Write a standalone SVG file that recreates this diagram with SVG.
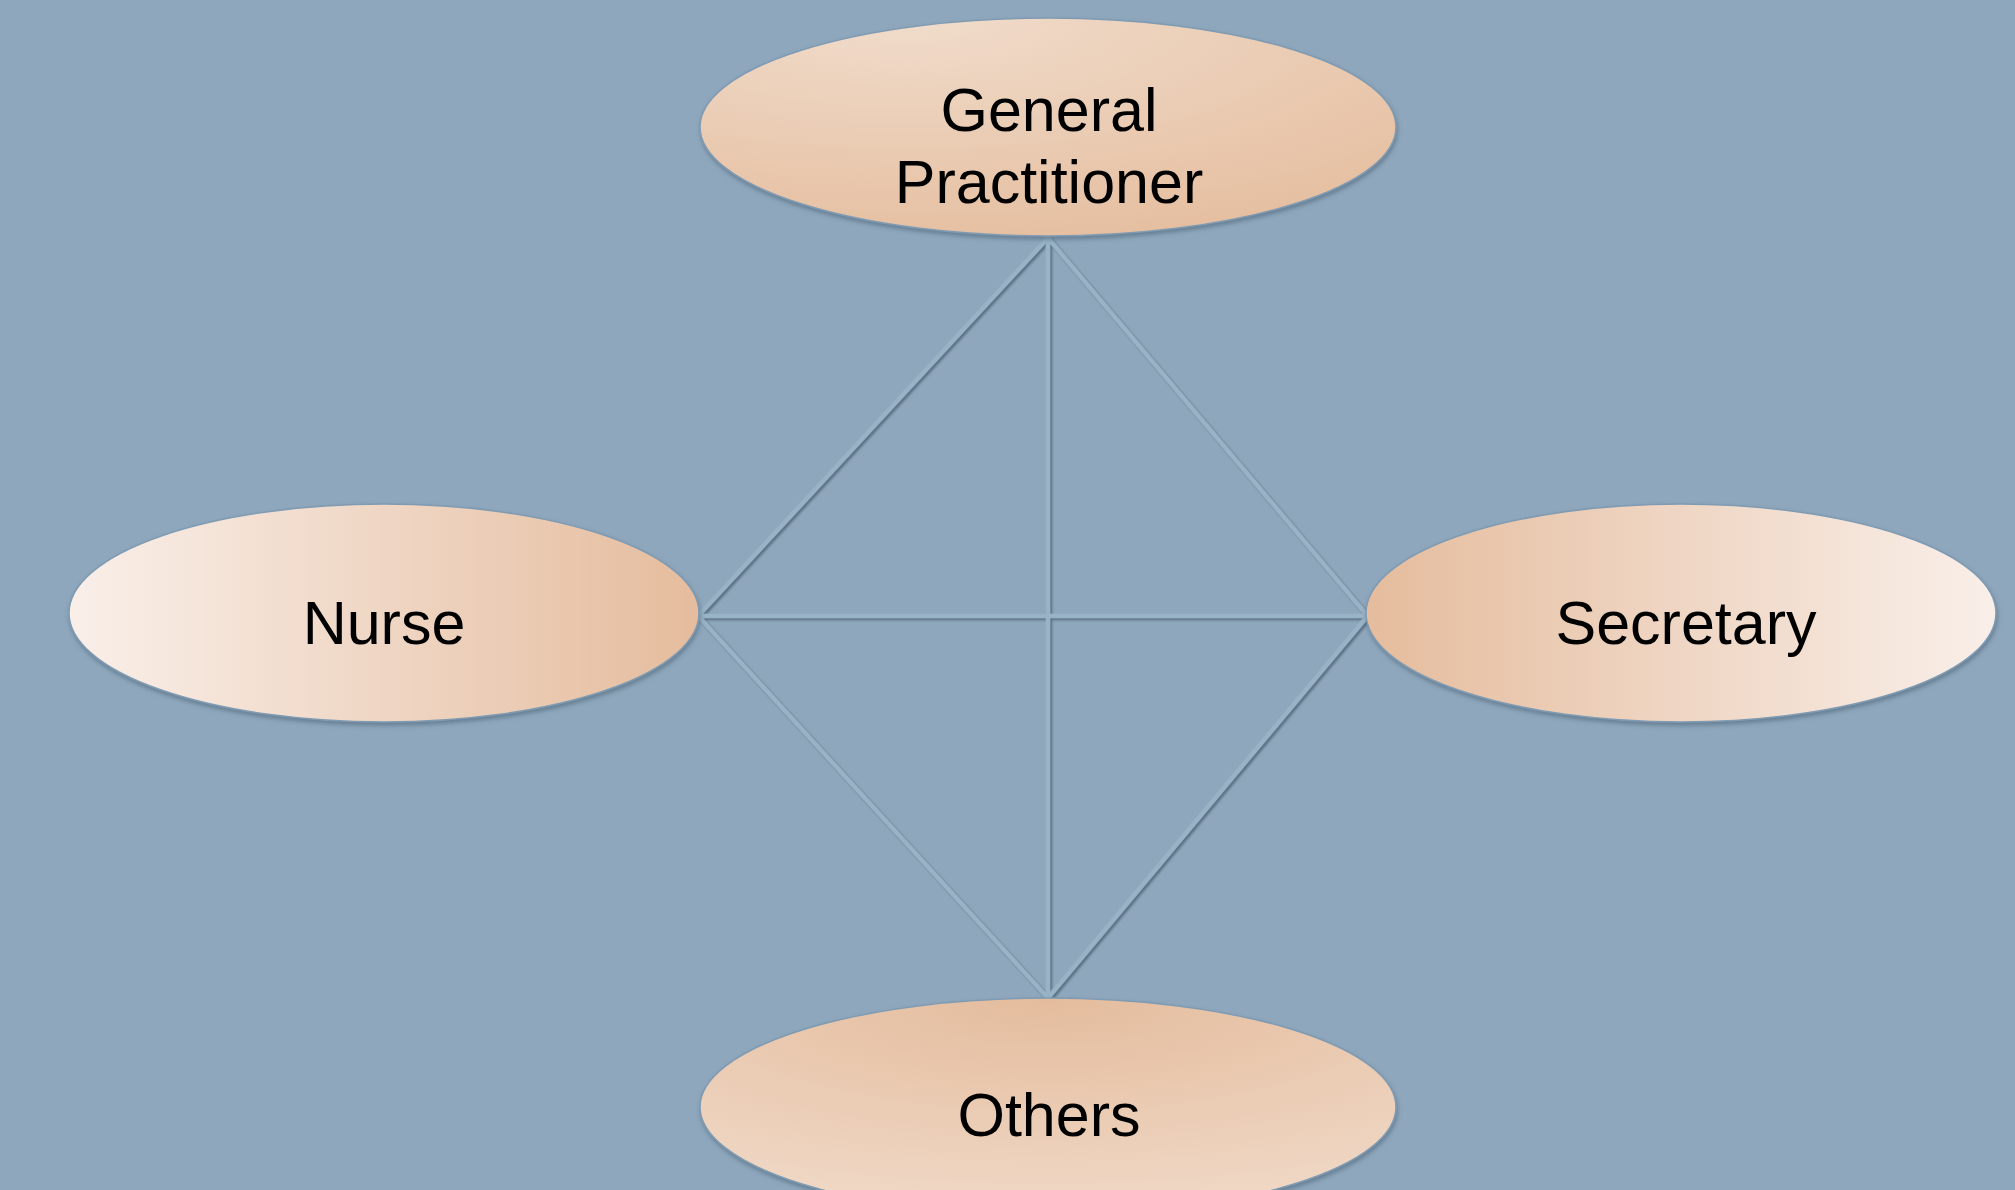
<svg xmlns="http://www.w3.org/2000/svg" width="2015" height="1190" viewBox="0 0 2015 1190">
  <style>
    .label { font-family: "Liberation Sans", Arial, sans-serif; font-size: 61px; fill: #000; text-anchor: middle; }
    .node { stroke: #7f9bb3; stroke-width: 1.5; filter: url(#nodeShadow); }
    .link { stroke: #98b2c6; stroke-width: 4.5; fill: none; stroke-linecap: round; }
  </style>
  <defs>
    <radialGradient id="gradTop" cx="0.3" cy="0.0" r="1.1">
      <stop offset="0" stop-color="#f0dccb"/>
      <stop offset="1" stop-color="#e5bd9e"/>
    </radialGradient>
    <radialGradient id="gradBottom" cx="0.5" cy="0.0" r="1.0">
      <stop offset="0" stop-color="#e4bc9d"/>
      <stop offset="1" stop-color="#f0d9c7"/>
    </radialGradient>
    <linearGradient id="gradLeft" x1="0" y1="0" x2="1" y2="0">
      <stop offset="0" stop-color="#f9efe9"/>
      <stop offset="0.5" stop-color="#efd6c4"/>
      <stop offset="1" stop-color="#e5bc9d"/>
    </linearGradient>
    <linearGradient id="gradRight" x1="1" y1="0" x2="0" y2="0">
      <stop offset="0" stop-color="#f9efe9"/>
      <stop offset="0.5" stop-color="#efd6c4"/>
      <stop offset="1" stop-color="#e5bc9d"/>
    </linearGradient>
    <filter id="nodeShadow" x="-10%" y="-10%" width="120%" height="130%">
      <feDropShadow dx="1" dy="3" stdDeviation="2" flood-color="#4a5f72" flood-opacity="0.55"/>
    </filter>
    <filter id="linkShadow" x="-5%" y="-5%" width="110%" height="110%">
      <feDropShadow dx="2" dy="2" stdDeviation="1" flood-color="#4f6477" flood-opacity="0.8"/>
    </filter>
  </defs>

  <rect width="2015" height="1190" fill="#8ea7bc"/>

  <g id="connectors" filter="url(#linkShadow)">
    <line class="link" x1="1048" y1="238" x2="700" y2="614"/>
    <line class="link" x1="1048" y1="238" x2="1366" y2="614"/>
    <line class="link" x1="1048" y1="238" x2="1048" y2="998"/>
    <line class="link" x1="700" y1="616" x2="1366" y2="616"/>
    <line class="link" x1="700" y1="618" x2="1048" y2="998"/>
    <line class="link" x1="1366" y1="618" x2="1048" y2="998"/>
  </g>

  <g id="node-gp">
    <ellipse class="node" cx="1048" cy="127" rx="348" ry="109" fill="url(#gradTop)"/>
    <text class="label" x="1049" y="131">General</text>
    <text class="label" x="1049" y="203">Practitioner</text>
  </g>

  <g id="node-nurse">
    <ellipse class="node" cx="384" cy="613" rx="315" ry="109" fill="url(#gradLeft)"/>
    <text class="label" x="384" y="644">Nurse</text>
  </g>

  <g id="node-secretary">
    <ellipse class="node" cx="1681" cy="613" rx="315" ry="109" fill="url(#gradRight)"/>
    <text class="label" x="1686" y="644">Secretary</text>
  </g>

  <g id="node-others">
    <ellipse class="node" cx="1048" cy="1107" rx="348" ry="109" fill="url(#gradBottom)"/>
    <text class="label" x="1049" y="1136">Others</text>
  </g>
</svg>
